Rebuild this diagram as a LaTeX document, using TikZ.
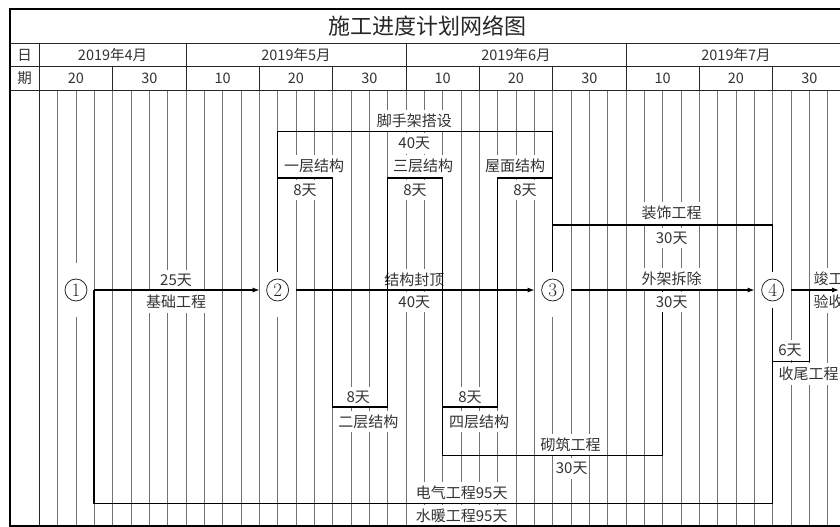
\documentclass[tikz,border=0pt]{standalone}
\usepackage{fontspec}
\newfontfamily\cjk{Noto Sans CJK SC}
\usetikzlibrary{arrows.meta}
\begin{document}
\begin{tikzpicture}[x=1pt,y=-1pt,
  gridline/.style={black!55, line width=0.7pt},
  hdr/.style={black!85, line width=0.8pt},
  net/.style={black, line width=1.1pt},
  arr/.style={net, -{Latex[length=7pt,width=5pt]}},
  lab/.style={fill=white, inner xsep=1.5pt, inner ysep=4pt, text=black!80, font=\cjk\fontsize{15}{15}\selectfont},
  htxt/.style={text=black!80, inner sep=0pt, font=\cjk\fontsize{14.5}{14.5}\selectfont},
  ttl/.style={text=black!85, inner sep=0pt, font=\cjk\fontsize{22}{22}\selectfont},
  circ/.style={circle, draw=black!85, line width=0.8pt, fill=white, minimum size=22pt, inner sep=0pt, outer sep=7pt, text=black!85, font=\fontsize{19}{19}\selectfont}
]
\useasboundingbox (0,0) rectangle (840,527);
\clip (0,0) rectangle (840,527);
\fill[white] (0,0) rectangle (840,527);

% body grid
\foreach \k in {1,...,43} \draw[gridline] ({39.3+18.333*\k},90) -- ({39.3+18.333*\k},526);
% white space round the event circles
\foreach \x in {75.97,277.63,552.63,772.62} \fill[white] (\x-6,263) rectangle (\x+6,317);

% header frame
\draw[hdr] (10,43.3) -- (850,43.3);
\draw[hdr] (10,66.7) -- (850,66.7);
\draw[hdr] (10,90) -- (850,90);
\draw[hdr] (39.3,43.3) -- (39.3,526);
\foreach \k in {8,20,32} \draw[hdr] ({39.3+18.333*\k},43.3) -- ({39.3+18.333*\k},66.7);
\foreach \k in {4,8,...,40} \draw[hdr] ({39.3+18.333*\k},66.7) -- ({39.3+18.333*\k},90);

% header texts
\node[ttl] (title) at (427.5,26) {施工进度计划网络图};
\node[htxt] (hri) at (24.7,55) {日};
\node[htxt] (hqi) at (24.7,78.5) {期};
\node[htxt] (m4) at (112.6,55) {2019年4月};
\node[htxt] (m5) at (296,55) {2019年5月};
\node[htxt] (m6) at (516,55) {2019年6月};
\node[htxt] (m7) at (736,55) {2019年7月};
\foreach \k/\d [count=\i] in {2/20,6/30,10/10,14/20,18/30,22/10,26/20,30/30,34/10,38/20,42/30}
  \node[htxt] (d\i) at ({39.3+18.333*\k},78.5) {\d};

% activity labels
\node[lab] (t25) at (176,280) {25天};
\node[lab] (tjc) at (176,302) {基础工程};
\node[lab] (tjg) at (414.3,279.5) {结构封顶};
\node[lab] (t40a) at (414.3,302) {40天};
\node[lab] (twj) at (671.7,279) {外架拆除};
\node[lab, anchor=west] (tjgy) at (812,279) {竣工};
\node[lab, anchor=west] (tys) at (812,302) {验收};
\node[lab] (tzs) at (671.7,213) {装饰工程};
\node[lab] (t30a) at (671.7,238) {30天};
\node[lab] (tjs) at (414.3,121) {脚手架搭设};
\node[lab] (t40b) at (414.3,143.5) {40天};
\node[lab] (tc1) at (314,166) {一层结构};
\node[lab] (t8a) at (305,190) {8天};
\node[lab] (tc3) at (423,166) {三层结构};
\node[lab] (t8c) at (415,190) {8天};
\node[lab] (twm) at (515,166) {屋面结构};
\node[lab] (t8e) at (525,190) {8天};
\node[lab] (t8b) at (358.3,397) {8天};
\node[lab] (tc2) at (368.3,421.5) {二层结构};
\node[lab] (t8d) at (470,397) {8天};
\node[lab] (tc4) at (479,421.5) {四层结构};
\node[lab] (tqz) at (570.5,445) {砌筑工程};
\node[lab] (t30c) at (571.7,468.5) {30天};
\node[lab] (tdq) at (461.7,492.7) {电气工程95天};
\node[lab] (tsn) at (461.7,516) {水暖工程95天};
\node[lab] (t6) at (790,350) {6天};
\node[lab, anchor=west] (tsw) at (777,374) {收尾工程};

% events
\node[circ] (n1) at (75.97,290) {1};
\node[circ] (n2) at (277.63,290) {2};
\node[circ] (n3) at (552.63,290) {3};
\node[circ] (n4) at (772.62,290) {4};
\coordinate (fin) at (839,290);

% network lines
\draw[arr] (n1) -- (n2);
\draw[arr] (n2) -- (n3);
\draw[arr] (n3) -- (n4);
\draw[arr] (n4) -- (fin);
\draw[net] (n2) -- (277.63,131.5) -- (552.63,131.5) -- (n3);
\draw[net] (277.63,178) -- (332.63,178) -- (332.63,407) -- (387.63,407) -- (387.63,178) -- (442.63,178) -- (442.63,455.7) -- (662.62,455.7) -- (662.62,290);
\draw[net] (442.63,407) -- (497.63,407) -- (497.63,178) -- (552.63,178);
\draw[net] (552.63,225) -- (772.62,225) -- (n4);
\draw[net] (n1.east) |- (772.62,503.3) -- (n4);
\draw[net] (772.62,361.7) -- (809.29,361.7) -- (809.29,290);

% label lying over the masonry line
\node[lab] (t30b) at (671.7,302) {30天};

% outer frame
\draw[black, line width=2pt] (10,9) rectangle (852,526);
\end{tikzpicture}
\end{document}
